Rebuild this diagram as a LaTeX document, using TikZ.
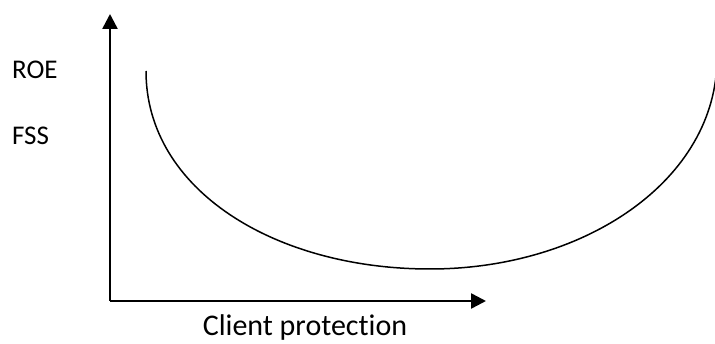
\documentclass[tikz,border=0pt]{standalone}
\usepackage{fontspec}
\setmainfont{Carlito}[RawFeature=-liga]
\usetikzlibrary{arrows.meta}
\tikzset{
  axisline/.style={line width=2.5pt,-{Triangle[length=15pt,width=15pt]}},
  curveline/.style={line width=1.5pt},
  lbl/.style={inner sep=0pt,font=\fontsize{27}{32}\selectfont},
  biglbl/.style={inner sep=0pt,font=\fontsize{30}{36}\selectfont}
}
\begin{document}
\begin{tikzpicture}[x=1pt,y=-1pt]
\useasboundingbox (0,0) rectangle (715,344);
\clip (0,0) rectangle (715,344);
\coordinate (o) at (110,301);
\coordinate (ytop) at (110,14);
\coordinate (xend) at (486,301);
\coordinate (cs) at (146,71);
\coordinate (cb) at (430,269);
\coordinate (ce) at (717,58);
\draw[axisline] (o) -- (ytop);
\draw[axisline] (o) -- (xend);
\draw[curveline] (cs) .. controls (146,190) and (275,269) .. (cb)
  .. controls (585,269) and (717,180) .. (ce);
\node[lbl,anchor=base west] (roe) at (12,79) {ROE};
\node[lbl,anchor=base west] (fss) at (12,145) {FSS};
\node[biglbl,anchor=base] (cp) at (305,336) {Client protection};
\end{tikzpicture}
\end{document}
